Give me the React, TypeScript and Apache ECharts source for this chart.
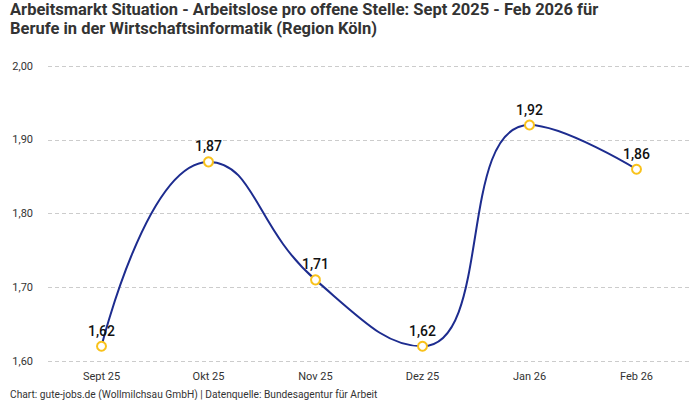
import { useEffect, useRef } from 'react';
import * as echarts from 'echarts';

const months = ['Sept 25', 'Okt 25', 'Nov 25', 'Dez 25', 'Jan 26', 'Feb 26'];
const ratios = [1.62, 1.87, 1.71, 1.62, 1.92, 1.86];

const titleText =
  'Arbeitsmarkt Situation - Arbeitslose pro offene Stelle: Sept 2025 - Feb 2026 für\nBerufe in der Wirtschaftsinformatik (Region Köln)';
const sourceText = 'Chart: gute-jobs.de (Wollmilchsau GmbH) | Datenquelle: Bundesagentur für Arbeit';

const fmt = (v: number) => v.toFixed(2).replace('.', ',');

export default function App() {
  const chartRef = useRef<HTMLDivElement>(null);

  useEffect(() => {
    if (!chartRef.current) return;
    const chart = echarts.init(chartRef.current, null, { renderer: 'svg' });

    const font = 'Roboto, sans-serif';

    chart.setOption({
      animation: false,
      backgroundColor: '#fff',
      textStyle: { fontFamily: font },
      title: {
        text: titleText,
        left: 10,
        top: 0,
        padding: 0,
        textStyle: {
          fontFamily: font,
          fontSize: 16.5,
          fontWeight: 'bold',
          color: '#333',
          lineHeight: 19,
        },
      },
      graphic: [
        {
          type: 'text',
          left: 10,
          bottom: 1,
          style: { text: sourceText, fontSize: 10.2, fill: '#333', fontFamily: font },
        },
      ],
      grid: { left: 48, right: 10, top: 66, bottom: 39 },
      xAxis: {
        type: 'category',
        data: months,
        boundaryGap: true,
        axisLine: { show: false },
        axisTick: { show: false },
        axisLabel: { color: '#333', fontSize: 11, margin: 10 },
      },
      yAxis: {
        type: 'value',
        min: 1.6,
        max: 2.0,
        interval: 0.1,
        axisLabel: {
          color: '#333',
          fontSize: 11,
          margin: 15,
          formatter: (v: number) => fmt(v),
        },
        splitLine: { lineStyle: { color: '#ccc', type: [4, 3] } },
      },
      series: [
        {
          type: 'line',
          data: ratios,
          smooth: true,
          symbol: 'circle',
          symbolSize: 9,
          showAllSymbol: true,
          lineStyle: { color: '#1d2c8f', width: 2 },
          itemStyle: { color: '#fff', borderColor: '#f9c21b', borderWidth: 2 },
          label: {
            show: true,
            position: 'top',
            distance: 3,
            color: '#111',
            fontSize: 14,
            fontWeight: 500,
            formatter: (p: { value: number }) => fmt(p.value),
          },
          z: 3,
        },
      ],
    });

    return () => chart.dispose();
  }, []);

  return (
    <div
      ref={chartRef}
      style={{ position: 'absolute', left: 0, top: 0, width: 700, height: 400 }}
    />
  );
}
